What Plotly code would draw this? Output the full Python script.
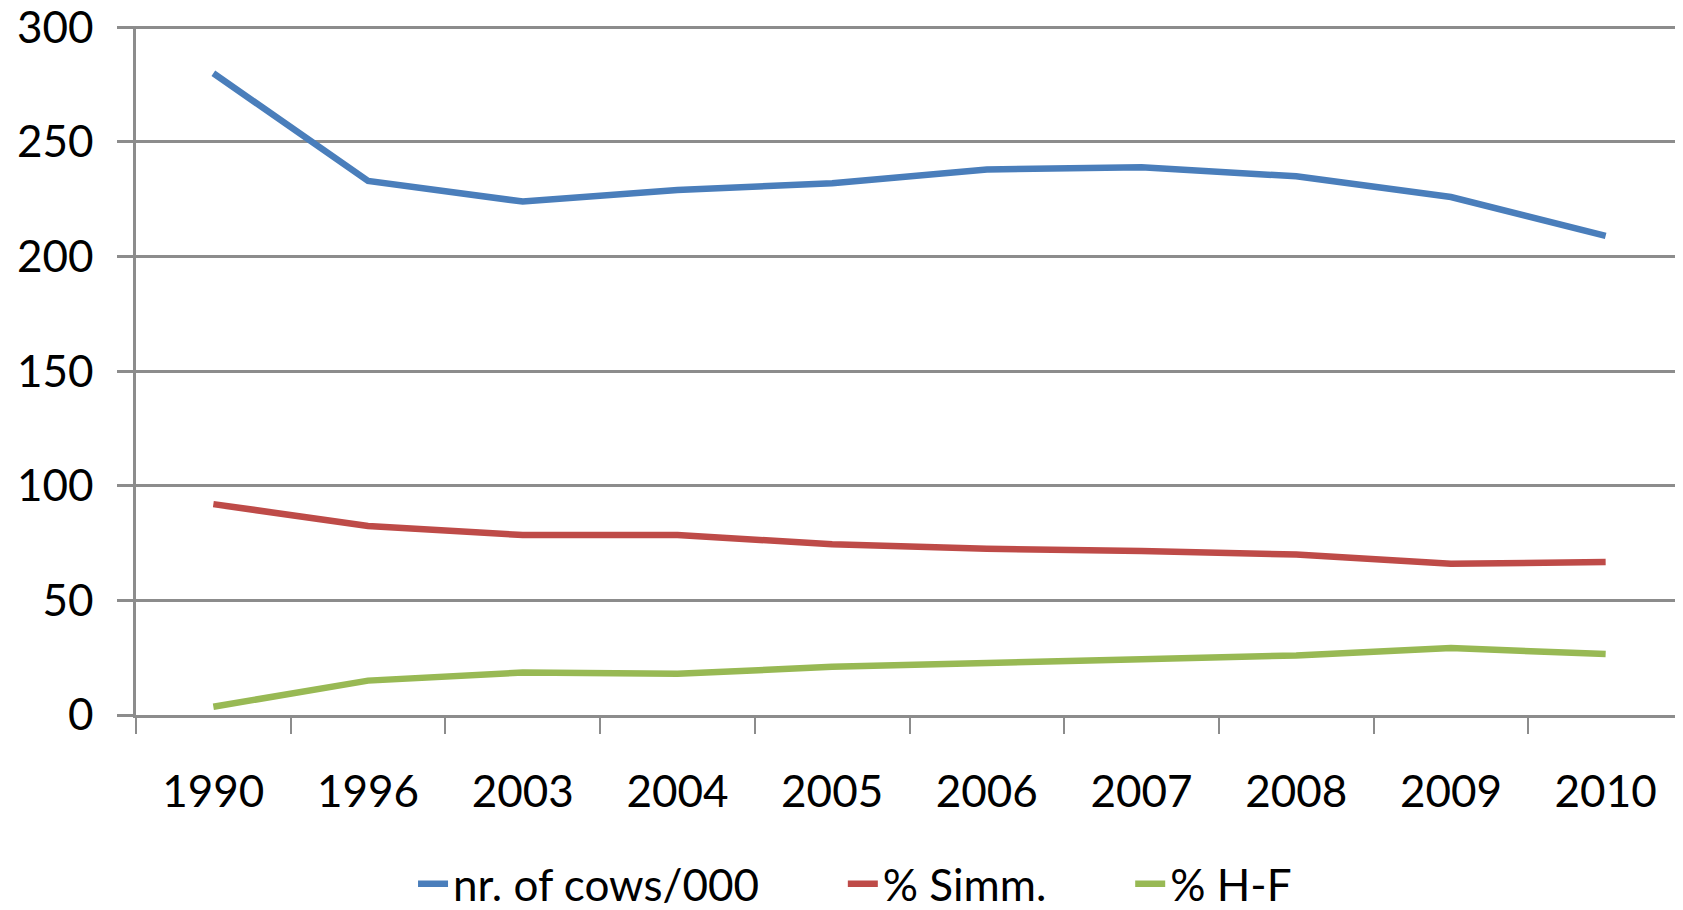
import plotly.graph_objects as go

years = ["1990", "1996", "2003", "2004", "2005", "2006", "2007", "2008", "2009", "2010"]
cows = [280, 233, 224, 229, 232, 238, 239, 235, 226, 209]
simm = [92, 82.5, 78.5, 78.5, 74.5, 72.5, 71.5, 70, 66, 66.7]
hf = [3.6, 15, 18.5, 18, 21, 23, 24.3, 26, 29.2, 26.6]

series_names = ["nr. of cows/000", "% Simm.", "% H-F"]
colors = ["#4A7EBB", "#BE4B48", "#98B954"]
grid = "#8C8C8C"
pad = "\u00a0" * 7

fig = go.Figure()
for name, vals, col in zip(series_names, [cows, simm, hf], colors):
    fig.add_trace(go.Scatter(
        x=years, y=vals, mode="lines", name=name + pad,
        line=dict(color=col, width=6.5),
    ))

fig.update_layout(
    width=1675, height=902,
    margin=dict(l=128, r=0, t=18, b=195, autoexpand=False),
    paper_bgcolor="white", plot_bgcolor="white",
    font=dict(family="Lato", size=44, color="black"),
    showlegend=True,
    legend=dict(orientation="h", x=0.49, xanchor="center", y=-0.2456, yanchor="middle",
                font=dict(size=44), bgcolor="rgba(0,0,0,0)"),
)
fig.update_xaxes(
    type="category", range=[-0.5, 9.5], tickson="boundaries", ticks="outside", ticklen=16,
    tickwidth=2, tickcolor=grid, showline=True, linecolor=grid, linewidth=3,
    showgrid=False, ticklabelstandoff=36, automargin=False, ticklabeloverflow="allow",
)
fig.update_yaxes(
    range=[0, 300.6], tickvals=[0, 50, 100, 150, 200, 250, 300], showgrid=True,
    gridcolor=grid, gridwidth=2.5,
    ticks="outside", ticklen=16, tickwidth=2.5, tickcolor=grid,
    showline=True, linecolor=grid, linewidth=2.5, zeroline=False,
    ticklabelstandoff=15, automargin=False, ticklabeloverflow="allow",
)

fig.write_html("out.html")
